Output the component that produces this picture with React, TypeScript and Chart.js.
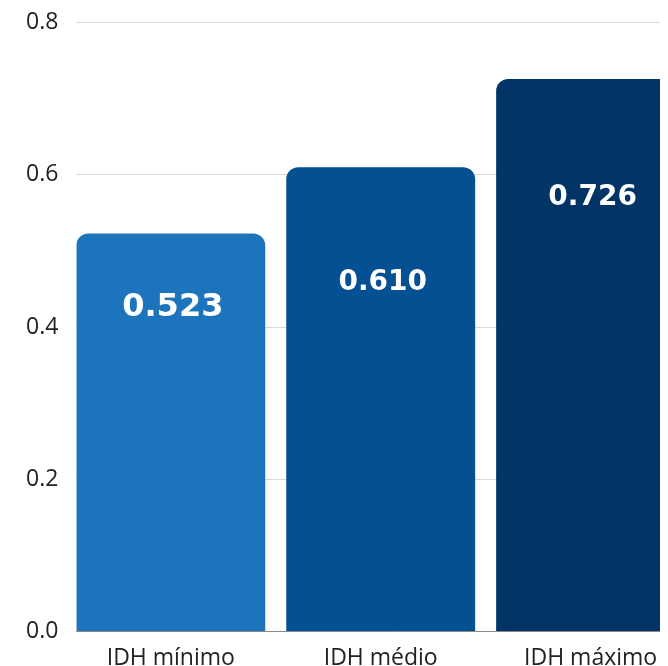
import React, { useEffect, useRef } from "react";
import { Chart, registerables } from "chart.js";

Chart.register(...registerables);

const categories = ["IDH mínimo", "IDH médio", "IDH máximo"];
const values = [0.523, 0.61, 0.726];
const valueLabels = ["0.523", "0.610", "0.726"];
const barColors = ["#1c75bc", "#054f93", "#023465"];
const yTicks = [0, 0.2, 0.4, 0.6, 0.8];

const labelPlugin = {
  id: "valueLabels",
  afterDatasetsDraw(chart: any) {
    const ctx = chart.ctx;
    const meta = chart.getDatasetMeta(0);
    const offsets = [74, 115, 119];
    const sizes = [32, 28, 28];
    ctx.save();
    ctx.fillStyle = "#ffffff";
    ctx.textAlign = "center";
    ctx.textBaseline = "middle";
    meta.data.forEach((bar: any, i: number) => {
      ctx.font = `bold ${sizes[i]}px "DejaVu Sans", sans-serif`;
      ctx.fillText(valueLabels[i], bar.x + 2, bar.y + offsets[i]);
    });
    ctx.restore();
  },
};

export default function App() {
  const ref = useRef<HTMLCanvasElement | null>(null);
  useEffect(() => {
    if (!ref.current) return;
    const chart = new Chart(ref.current, {
      type: "bar",
      data: {
        datasets: [
          {
            data: values.map((v, i) => ({ x: i, y: v })),
            backgroundColor: barColors,
            borderRadius: { topLeft: 12, topRight: 12, bottomLeft: 0, bottomRight: 0 },
            borderSkipped: false,
            barPercentage: 0.9,
            categoryPercentage: 1,
          },
        ],
      },
      options: {
        animation: false,
        responsive: false,
        maintainAspectRatio: false,
        layout: { padding: { left: 0, right: 0, top: 0, bottom: 0 } },
        plugins: { legend: { display: false }, tooltip: { enabled: false } },
        scales: {
          x: {
            type: "linear",
            offset: false,
            min: -0.45,
            max: 2.607,
            afterBuildTicks: (axis: any) => {
              axis.ticks = categories.map((_, i) => ({ value: i }));
            },
            grid: { display: false },
            border: { display: true, color: "#888888", width: 1 },
            ticks: {
              color: "#222222",
              padding: 5,
              maxRotation: 0,
              autoSkip: false,
              callback: (v: any) => categories[Math.round(Number(v))] ?? "",
              font: { family: "'Open Sans', 'Noto Sans', sans-serif", size: 23 },
            },
          },
          y: {
            min: 0,
            max: 0.8,
            afterBuildTicks: (axis: any) => {
              axis.ticks = yTicks.map((v) => ({ value: v }));
            },
            grid: { color: "#d9d9d9", drawTicks: false, lineWidth: 1 },
            border: { display: false },
            ticks: {
              color: "#222222",
              padding: 18,
              callback: (v: any) => Number(v).toFixed(1),
              font: { family: "'Open Sans', 'Noto Sans', sans-serif", size: 23 },
            },
          },
        },
      },
      plugins: [labelPlugin],
    });
    return () => chart.destroy();
  }, []);
  return (
    <div style={{ width: 660, height: 658, overflow: "hidden" }}>
      <canvas
        ref={ref}
        width={710}
        height={686}
        style={{ width: 710, height: 686, display: "block", marginTop: -17 }}
      />
    </div>
  );
}
